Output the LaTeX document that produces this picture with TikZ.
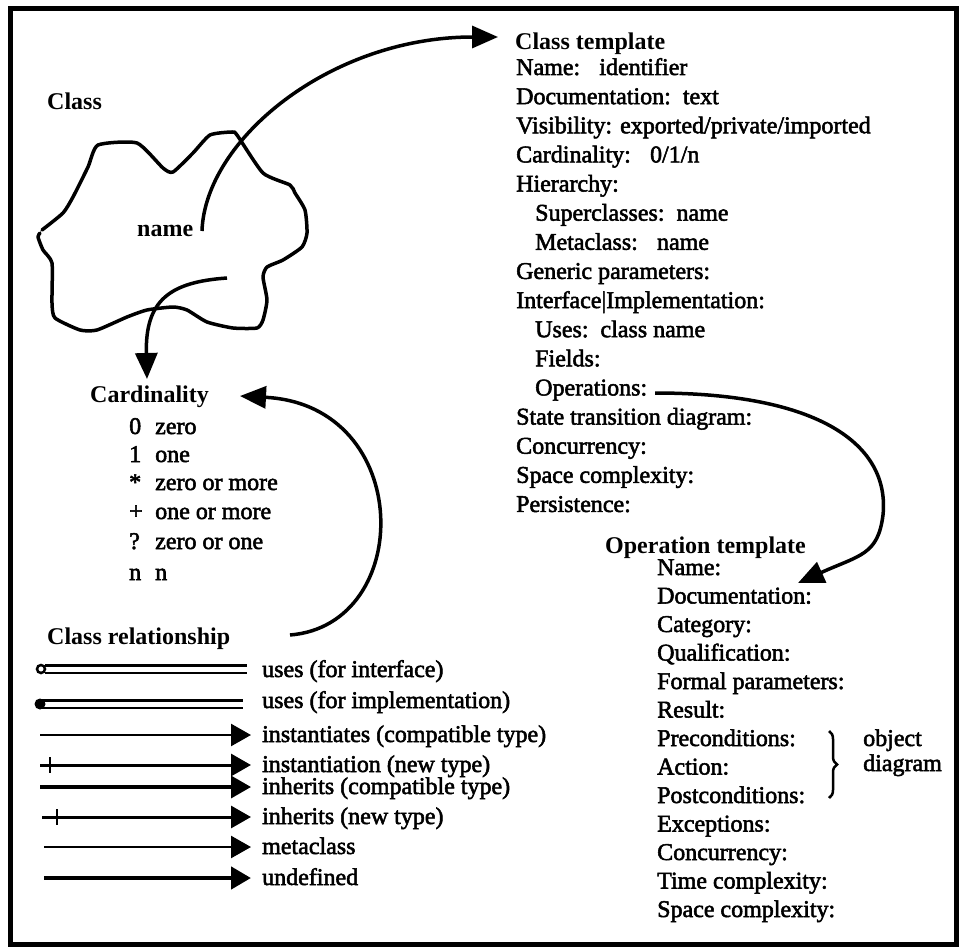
\documentclass[tikz,border=0pt]{standalone}
\usepackage{fontspec}
\setmainfont{Liberation Serif}
\newfontfamily\heavyserif[FakeBold=2.2]{Liberation Serif}
\usetikzlibrary{arrows.meta,decorations.pathreplacing}
\begin{document}
\begin{tikzpicture}[x=1pt,y=-1pt,
  txt/.style={anchor=base west,inner sep=0pt,font=\fontsize{24}{29}\selectfont\heavyserif},
  hdr/.style={anchor=base west,inner sep=0pt,font=\fontsize{24}{29}\selectfont\bfseries},
  bigarrow/.style={line width=3.5pt,-{Triangle[length=26pt,width=22pt]}},
  relarrow/.style={-{Triangle[length=20pt,width=22pt]}},
  dbl/.style={double,double distance=5pt,line width=2.5pt},
]
\useasboundingbox (0,0) rectangle (959,947);
\draw[line width=5pt] (10,9) rectangle (956,944);

% cloud
\draw[line width=3.5pt,line join=round,line cap=round] plot[smooth,tension=0.35] coordinates {
 (42,230) (63,213) (73,197) (88,167) (98,145) (137,143) (163,168) (173,172)
 (193,153) (210,135) (232,132) (237,135) (263,173) (290,185) (295,193) (305,210)
 (307,233) (302,247) (283,260) (267,267) (263,277) (267,300) (263,320) (257,328)
 (233,328) (207,322) (187,310) (173,307) (147,310) (127,317) (97,330) (80,330)
 (55,318) (52,303) (52,263) (43,250) (38,237) (40,233)};

\node[hdr] (class) at (47,110) {Class};
\node[hdr] (name) at (137,236) {name};

% class template
\node[hdr] (cthdr) at (515,50) {Class template};
\foreach \t/\i [count=\k] in {
 {Name:\hspace{0.8em}identifier}/0,
 {Documentation:\hspace{0.5em}text}/0,
 {Visibility: exported/private/imported}/0,
 {Cardinality:\hspace{0.8em}0/1/n}/0,
 {Hierarchy:}/0,
 {Superclasses:\hspace{0.5em}name}/19,
 {Metaclass:\hspace{0.8em}name}/19,
 {Generic parameters:}/0,
 {Interface|Implementation:}/0,
 {Uses:\hspace{0.5em}class name}/19,
 {Fields:}/19,
 {Operations:}/19,
 {State transition diagram:}/0,
 {Concurrency:}/0,
 {Space complexity:}/0,
 {Persistence:}/0}
 {\node[txt] (ct\k) at ({516+\i},{75+29.13*(\k-1)}) {\t};}

% operation template
\node[hdr] (ophdr) at (605,553) {Operation template};
\foreach \t [count=\k] in {Name:,Documentation:,Category:,Qualification:,
 Formal parameters:,Result:,Preconditions:,Action:,Postconditions:,
 Exceptions:,Concurrency:,Time complexity:,Space complexity:}
 {\node[txt] (op\k) at (657,{575+28.5*(\k-1)}) {\t};}

\draw[line width=2.5pt,decorate,decoration={brace,amplitude=8pt}] (829,731) -- (829,798);
\node[txt] (obj) at (863,746) {object};
\node[txt] (diag) at (863,771) {diagram};

% cardinality
\node[hdr] (cardhdr) at (90,402) {Cardinality};
\foreach \s/\t/\y [count=\k] in {0/zero/434,1/one/462,*/zero or more/490,
 +/one or more/519,?/zero or one/549,n/n/580}
 {\node[txt] (cs\k) at (129,\y) {\s};
  \node[txt] (ctx\k) at (155,\y) {\t};}

% class relationship
\node[hdr] (relhdr) at (47,644) {Class relationship};

\coordinate (u1s) at (45,669); \coordinate (u1e) at (247,669);
\coordinate (u2s) at (42,704); \coordinate (u2e) at (243,704);
\draw[dbl] (u1s) -- (u1e);
\draw[line width=2.5pt,fill=white] (41,669) circle (4);
\draw[dbl] (u2s) -- (u2e);
\fill (40,704) circle (5.5);

\coordinate (r3s) at (40,735); \coordinate (r3e) at (251,735);
\coordinate (r4s) at (40,765); \coordinate (r4e) at (251,765);
\coordinate (r5s) at (40,787); \coordinate (r5e) at (251,787);
\coordinate (r6s) at (42,817); \coordinate (r6e) at (251,817);
\coordinate (r7s) at (44,847); \coordinate (r7e) at (251,847);
\coordinate (r8s) at (44,878); \coordinate (r8e) at (251,878);
\draw[relarrow,line width=2.5pt] (r3s) -- (r3e);
\draw[relarrow,line width=3pt] (r4s) -- (r4e);
\draw[line width=2.5pt] (50,757) -- (50,773);
\draw[relarrow,line width=3.5pt] (r5s) -- (r5e);
\draw[relarrow,line width=3pt] (r6s) -- (r6e);
\draw[line width=2.5pt] (57,809) -- (57,825);
\draw[relarrow,line width=2.5pt] (r7s) -- (r7e);
\draw[relarrow,line width=4.5pt] (r8s) -- (r8e);

\node[txt] (l1) at (262,677) {uses (for interface)};
\node[txt] (l2) at (262,708) {uses (for implementation)};
\node[txt] (l3) at (262,742) {instantiates (compatible type)};
\node[txt] (l4) at (262,772) {instantiation (new type)};
\node[txt] (l5) at (262,794) {inherits (compatible type)};
\node[txt] (l6) at (262,824) {inherits (new type)};
\node[txt] (l7) at (262,854) {metaclass};
\node[txt] (l8) at (262,885) {undefined};

% curved arrows
\coordinate (a1s) at (202,231); \coordinate (a1e) at (498,37);
\draw[bigarrow] (a1s) .. controls (205,140) and (330,37) .. (a1e);
\coordinate (a2s) at (227,278); \coordinate (a2e) at (147,379);
\draw[bigarrow] (a2s) .. controls (170,282) and (145,300) .. (a2e);
\coordinate (a3s) at (290,635); \coordinate (a3e) at (240,396);
\draw[bigarrow] (a3s) .. controls (415,625) and (415,405) .. (a3e);
\coordinate (a4s) at (655,393); \coordinate (a4m) at (883,515); \coordinate (a4e) at (798,583);
\draw[bigarrow] (a4s) .. controls (820,393) and (890,445) .. (a4m) .. controls (878,555) and (860,555) .. (a4e);
\end{tikzpicture}
\end{document}
